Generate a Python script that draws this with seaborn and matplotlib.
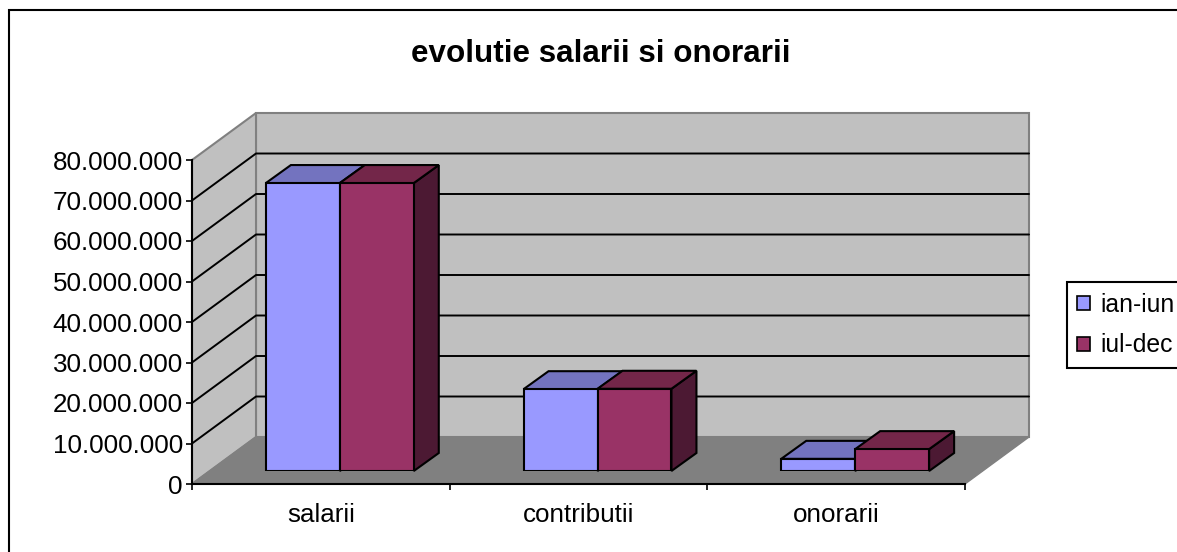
import matplotlib
matplotlib.use('Agg')
import matplotlib.pyplot as plt
from matplotlib.patches import Polygon, Rectangle, Patch
import pandas as pd
import seaborn as sns

# values
categories = ['salarii', 'contributii', 'onorarii']
ian_iun = [71100000, 20200000, 3000000]
iul_dec = [71100000, 20300000, 5400000]
series_names = ['ian-iun', 'iul-dec']
y_ticks = [0, 10000000, 20000000, 30000000, 40000000, 50000000, 60000000, 70000000, 80000000]
y_labels = ['0', '10.000.000', '20.000.000', '30.000.000', '40.000.000',
            '50.000.000', '60.000.000', '70.000.000', '80.000.000']

W, H = 1177, 552
# front plane of the box in pixels
left, right, top, bottom = 192, 965, 160, 484
ymax = 80000000
cat_px = (right - left) / 3
val_px = (bottom - top) / ymax

sns.set_theme(style='white')
plt.rcParams['font.family'] = ['Liberation Sans', 'DejaVu Sans']
fs = 18.7

df = pd.DataFrame({
    'cat': categories * 2,
    'perioada': [series_names[0]] * 3 + [series_names[1]] * 3,
    'val': ian_iun + iul_dec,
})

fig = plt.figure(figsize=(W / 100, H / 100), dpi=100, facecolor='white')
fig.add_artist(Rectangle((9 / W, -0.05), 1.1, 1.05 - 10 / H, transform=fig.transFigure,
                         fc='white', ec='black', lw=1.5))


def rect(l, t, r, b):
    return [l / W, 1 - b / H, (r - l) / W, (b - t) / H]


ax = fig.add_axes(rect(left, top, right, bottom))
ax.patch.set_visible(False)
ax.set_xlim(-0.5, 2.5)
ax.set_ylim(0, ymax)

# box depth, in data units
dx = 64 / cat_px
dy = 47 / val_px
x0, x1 = -0.5, 2.5
wall = dict(fc='#C0C0C0', ec='#808080', lw=1.5, clip_on=False, zorder=1, joinstyle='miter')
ax.add_patch(Polygon([(x0 + dx, dy), (x1 + dx, dy), (x1 + dx, ymax + dy), (x0 + dx, ymax + dy)], **wall))
ax.add_patch(Polygon([(x0, 0), (x0 + dx, dy), (x0 + dx, ymax + dy), (x0, ymax)], **wall))
ax.add_patch(Polygon([(x0, 0), (x0 + dx, dy), (x1 + dx, dy), (x1, 0)], fc='#808080', ec='#808080',
                     lw=1, clip_on=False, zorder=1.1))
for t in y_ticks[1:-1]:
    ax.plot([x0, x0 + dx, x1 + dx], [t, t + dy, t + dy], color='black', lw=1.4, clip_on=False, zorder=1.2)

ax.set_yticks(y_ticks)
ax.set_yticklabels(y_labels, fontsize=fs, color='black')
ax.set_xticks([-0.5, 0.5, 1.5, 2.5])
ax.set_xticklabels([])
ax.set_xticks([0, 1, 2], categories, minor=True, fontsize=fs, color='black')
ax.tick_params(axis='x', which='minor', length=0, pad=14)
ax.tick_params(axis='both', which='major', length=4.5, width=1.2, color='black', left=True, bottom=True)
ax.tick_params(axis='y', pad=2)
sns.despine(ax=ax)
ax.set_zorder(1)
for s in ['left', 'bottom']:
    ax.spines[s].set_linewidth(1.5)
    ax.spines[s].set_color('black')
    ax.spines[s].set_zorder(2)

# bars sit a little inside the box: same scales, shifted plane
ax2 = fig.add_axes(rect(left + 19, top - 13, right + 19, bottom - 13))
ax2.patch.set_visible(False)
ax2.set_zorder(2)
sns.barplot(data=df, x='cat', y='val', hue='perioada', palette=['#9999FF', '#993366'],
            width=0.574, gap=0, dodge=True, saturation=1, edgecolor='black', linewidth=1.5,
            ax=ax2, legend=False, zorder=5)
ax2.set_xlim(-0.5, 2.5)
ax2.set_ylim(0, ymax)
ax2.set_axis_off()

# top and side faces from the bars themselves
bx = 25 / cat_px
by = 18 / val_px
tops = ['#7373BF', '#732649']
sides = ['#4C4C80', '#4C1933']
for i, cont in enumerate(ax2.containers):
    for b in cont:
        xa, w, h = b.get_x(), b.get_width(), b.get_height()
        ax2.add_patch(Polygon([(xa + w, 0), (xa + w + bx, by), (xa + w + bx, h + by), (xa + w, h)],
                              fc=sides[i], ec='black', lw=1.5, clip_on=False, zorder=2 + i))
        ax2.add_patch(Polygon([(xa, h), (xa + bx, h + by), (xa + w + bx, h + by), (xa + w, h)],
                              fc=tops[i], ec='black', lw=1.5, clip_on=False, zorder=2 + i))

fig.text(601 / W, 1 - 54 / H, 'evolutie salarii si onorarii', fontsize=22.6, fontweight='bold',
         ha='center', va='center', color='black')

handles = [Patch(fc='#9999FF', ec='black', lw=1.2), Patch(fc='#993366', ec='black', lw=1.2)]
leg = fig.legend(handles, series_names, loc='center left', bbox_to_anchor=(1067 / W, 1 - 325 / H),
                 fontsize=17.8, labelcolor='black', frameon=True, fancybox=False, edgecolor='black',
                 framealpha=1, borderpad=0.42, labelspacing=0.68, handlelength=0.5, handleheight=0.5,
                 handletextpad=0.43, borderaxespad=0)
leg.get_frame().set_linewidth(1.5)

fig.savefig('out.png', dpi=100, facecolor='white')
